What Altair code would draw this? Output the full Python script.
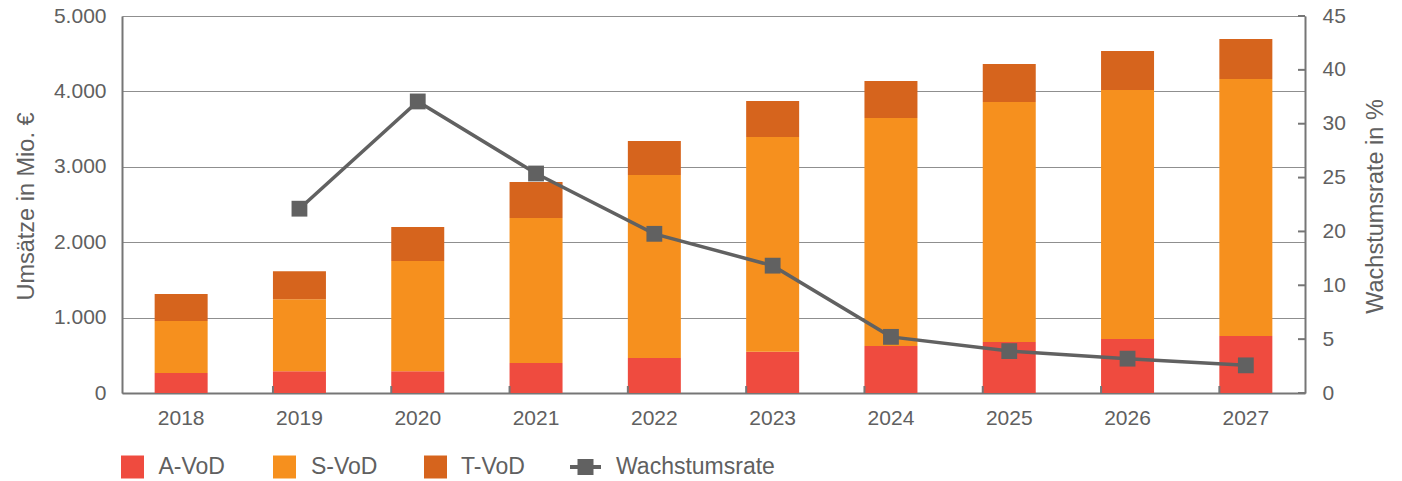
import altair as alt
import pandas as pd

# ---- data ----
years = ["2018", "2019", "2020", "2021", "2022", "2023", "2024", "2025", "2026", "2027"]
a_vod = [265, 290, 290, 398, 464, 548, 623, 676, 716, 756]
s_vod = [690, 955, 1460, 1923, 2427, 2847, 3024, 3184, 3303, 3409]
t_vod = [358, 370, 450, 477, 451, 478, 491, 503, 517, 530]
growth_years = ["2019", "2020", "2021", "2022", "2023", "2024", "2025", "2026", "2027"]
growth = [22.0, 34.8, 26.2, 19.0, 15.2, 6.7, 5.0, 4.1, 3.3]
series = ["A-VoD", "S-VoD", "T-VoD"]
colors = ["#EF4B3F", "#F6901E", "#D6641D"]
line_label = "Wachstumsrate"
right_tick_labels = ["0", "5", "10", "20", "25", "30", "40", "45"]

W, H = 1183, 377
FONT = "Liberation Sans"
TXT = "#606060"
GRID = "#8f8f8f"
DOMAIN = "#767676"
LINEC = "#616161"
FS = 21
TFS = 23.5
LFS = 23

rows = []
for i, y in enumerate(years):
    for k, (name, vals) in enumerate(zip(series, [a_vod, s_vod, t_vod])):
        rows.append({"year": y, "series": name, "value": vals[i], "ord": k})
bars_df = pd.DataFrame(rows)
line_df = pd.DataFrame({"year": growth_years, "rate": growth})
tick_df = pd.DataFrame({"year": years[1:]})
rt_vals = [45 * k / 7 for k in range(len(right_tick_labels))]
rt_df = pd.DataFrame({"v": rt_vals})

xscale = alt.Scale(domain=years, paddingInner=0.552, paddingOuter=0.276)
lab_js = "[" + ",".join("'%s'" % s for s in right_tick_labels) + "]"

bars = alt.Chart(bars_df).mark_bar().encode(
    x=alt.X("year:O", scale=xscale, sort=years,
            axis=alt.Axis(title=None, labelAngle=0, ticks=False, grid=False,
                          domainColor=DOMAIN, domainWidth=2,
                          labelFontSize=FS, labelColor=TXT, labelFont=FONT,
                          labelPadding=14)),
    y=alt.Y("value:Q", stack="zero", scale=alt.Scale(domain=[0, 5000], nice=False),
            axis=alt.Axis(title="Umsätze in Mio. €", values=[0, 1000, 2000, 3000, 4000, 5000],
                          labelExpr="replace(format(datum.value, ','), ',', '.')",
                          grid=True, gridColor=GRID, gridWidth=1, ticks=False,
                          domainColor=DOMAIN, domainWidth=2,
                          labelFontSize=FS, labelColor=TXT, labelFont=FONT, labelPadding=16,
                          titleFontSize=TFS, titleColor=TXT, titleFont=FONT, titleFontWeight="normal",
                          titleAngle=-90, titleX=-89, titleY=190, titleAlign="center",
                          titleBaseline="alphabetic")),
    color=alt.Color("series:N", scale=alt.Scale(domain=series, range=colors), legend=None),
    order=alt.Order("ord:Q", sort="ascending"),
)

line = alt.Chart(line_df).mark_line(color=LINEC, strokeWidth=3.5).encode(
    x=alt.X("year:O", scale=xscale, sort=years),
    y=alt.Y("rate:Q", scale=alt.Scale(domain=[0, 45], nice=False),
            axis=alt.Axis(orient="right", title="Wachstumsrate in %", values=rt_vals,
                          labelExpr=lab_js + "[round(datum.value*7/45)]",
                          grid=False, ticks=False, domainColor=DOMAIN, domainWidth=2,
                          labelFontSize=FS, labelColor=TXT, labelFont=FONT, labelPadding=17,
                          titleFontSize=TFS, titleColor=TXT, titleFont=FONT, titleFontWeight="normal",
                          titleAngle=-90, titleX=77, titleY=190, titleAlign="center",
                          titleBaseline="alphabetic")),
)
points = alt.Chart(line_df).mark_square(color=LINEC, opacity=1, size=250).encode(
    x=alt.X("year:O", scale=xscale, sort=years),
    y=alt.Y("rate:Q", scale=alt.Scale(domain=[0, 45], nice=False), axis=None),
)

right_ticks = alt.Chart(rt_df).mark_rule(color=DOMAIN, strokeWidth=2).encode(
    x=alt.value(W - 7), x2=alt.value(W),
    y=alt.Y("v:Q", scale=alt.Scale(domain=[0, 45], nice=False), axis=None),
)
bottom_ticks = alt.Chart(tick_df).mark_rule(color=DOMAIN, strokeWidth=2).encode(
    x=alt.X("year:O", scale=xscale, sort=years, bandPosition=0),
    y=alt.value(H), y2=alt.value(H - 7),
)

# ---- manual legend below the plot ----
leg_y = 451
leg_layers = []
sq_x = [10.5, 162.5, 313.5]
tx_x = [36.5, 189, 339]
for name, col, sx, tx in zip(series, colors, sq_x, tx_x):
    d = pd.DataFrame({"label": [name]})
    leg_layers.append(alt.Chart(d).mark_square(color=col, opacity=1, size=529).encode(
        x=alt.value(sx), y=alt.value(leg_y)))
    leg_layers.append(alt.Chart(d).mark_text(align="left", baseline="middle", fontSize=LFS,
                                             font=FONT, color=TXT).encode(
        x=alt.value(tx), y=alt.value(leg_y), text="label:N"))
dl = pd.DataFrame({"label": [line_label]})
leg_layers.append(alt.Chart(dl).mark_rule(color=LINEC, strokeWidth=4).encode(
    x=alt.value(448), x2=alt.value(479), y=alt.value(leg_y)))
leg_layers.append(alt.Chart(dl).mark_square(color=LINEC, opacity=1, size=256).encode(
    x=alt.value(463.5), y=alt.value(leg_y)))
leg_layers.append(alt.Chart(dl).mark_text(align="left", baseline="middle", fontSize=LFS,
                                          font=FONT, color=TXT).encode(
    x=alt.value(494), y=alt.value(leg_y), text="label:N"))

chart = alt.layer(bars, bottom_ticks, line, points, right_ticks, *leg_layers).resolve_scale(
    y="independent"
).properties(
    width=W, height=H,
    autosize=alt.AutoSizeParams(type="none"),
    padding={"left": 122, "top": 16, "right": 97, "bottom": 88},
).configure_view(stroke=None).configure(background="white")

chart.save("out.html", embed_options={"renderer": "svg", "actions": False})
